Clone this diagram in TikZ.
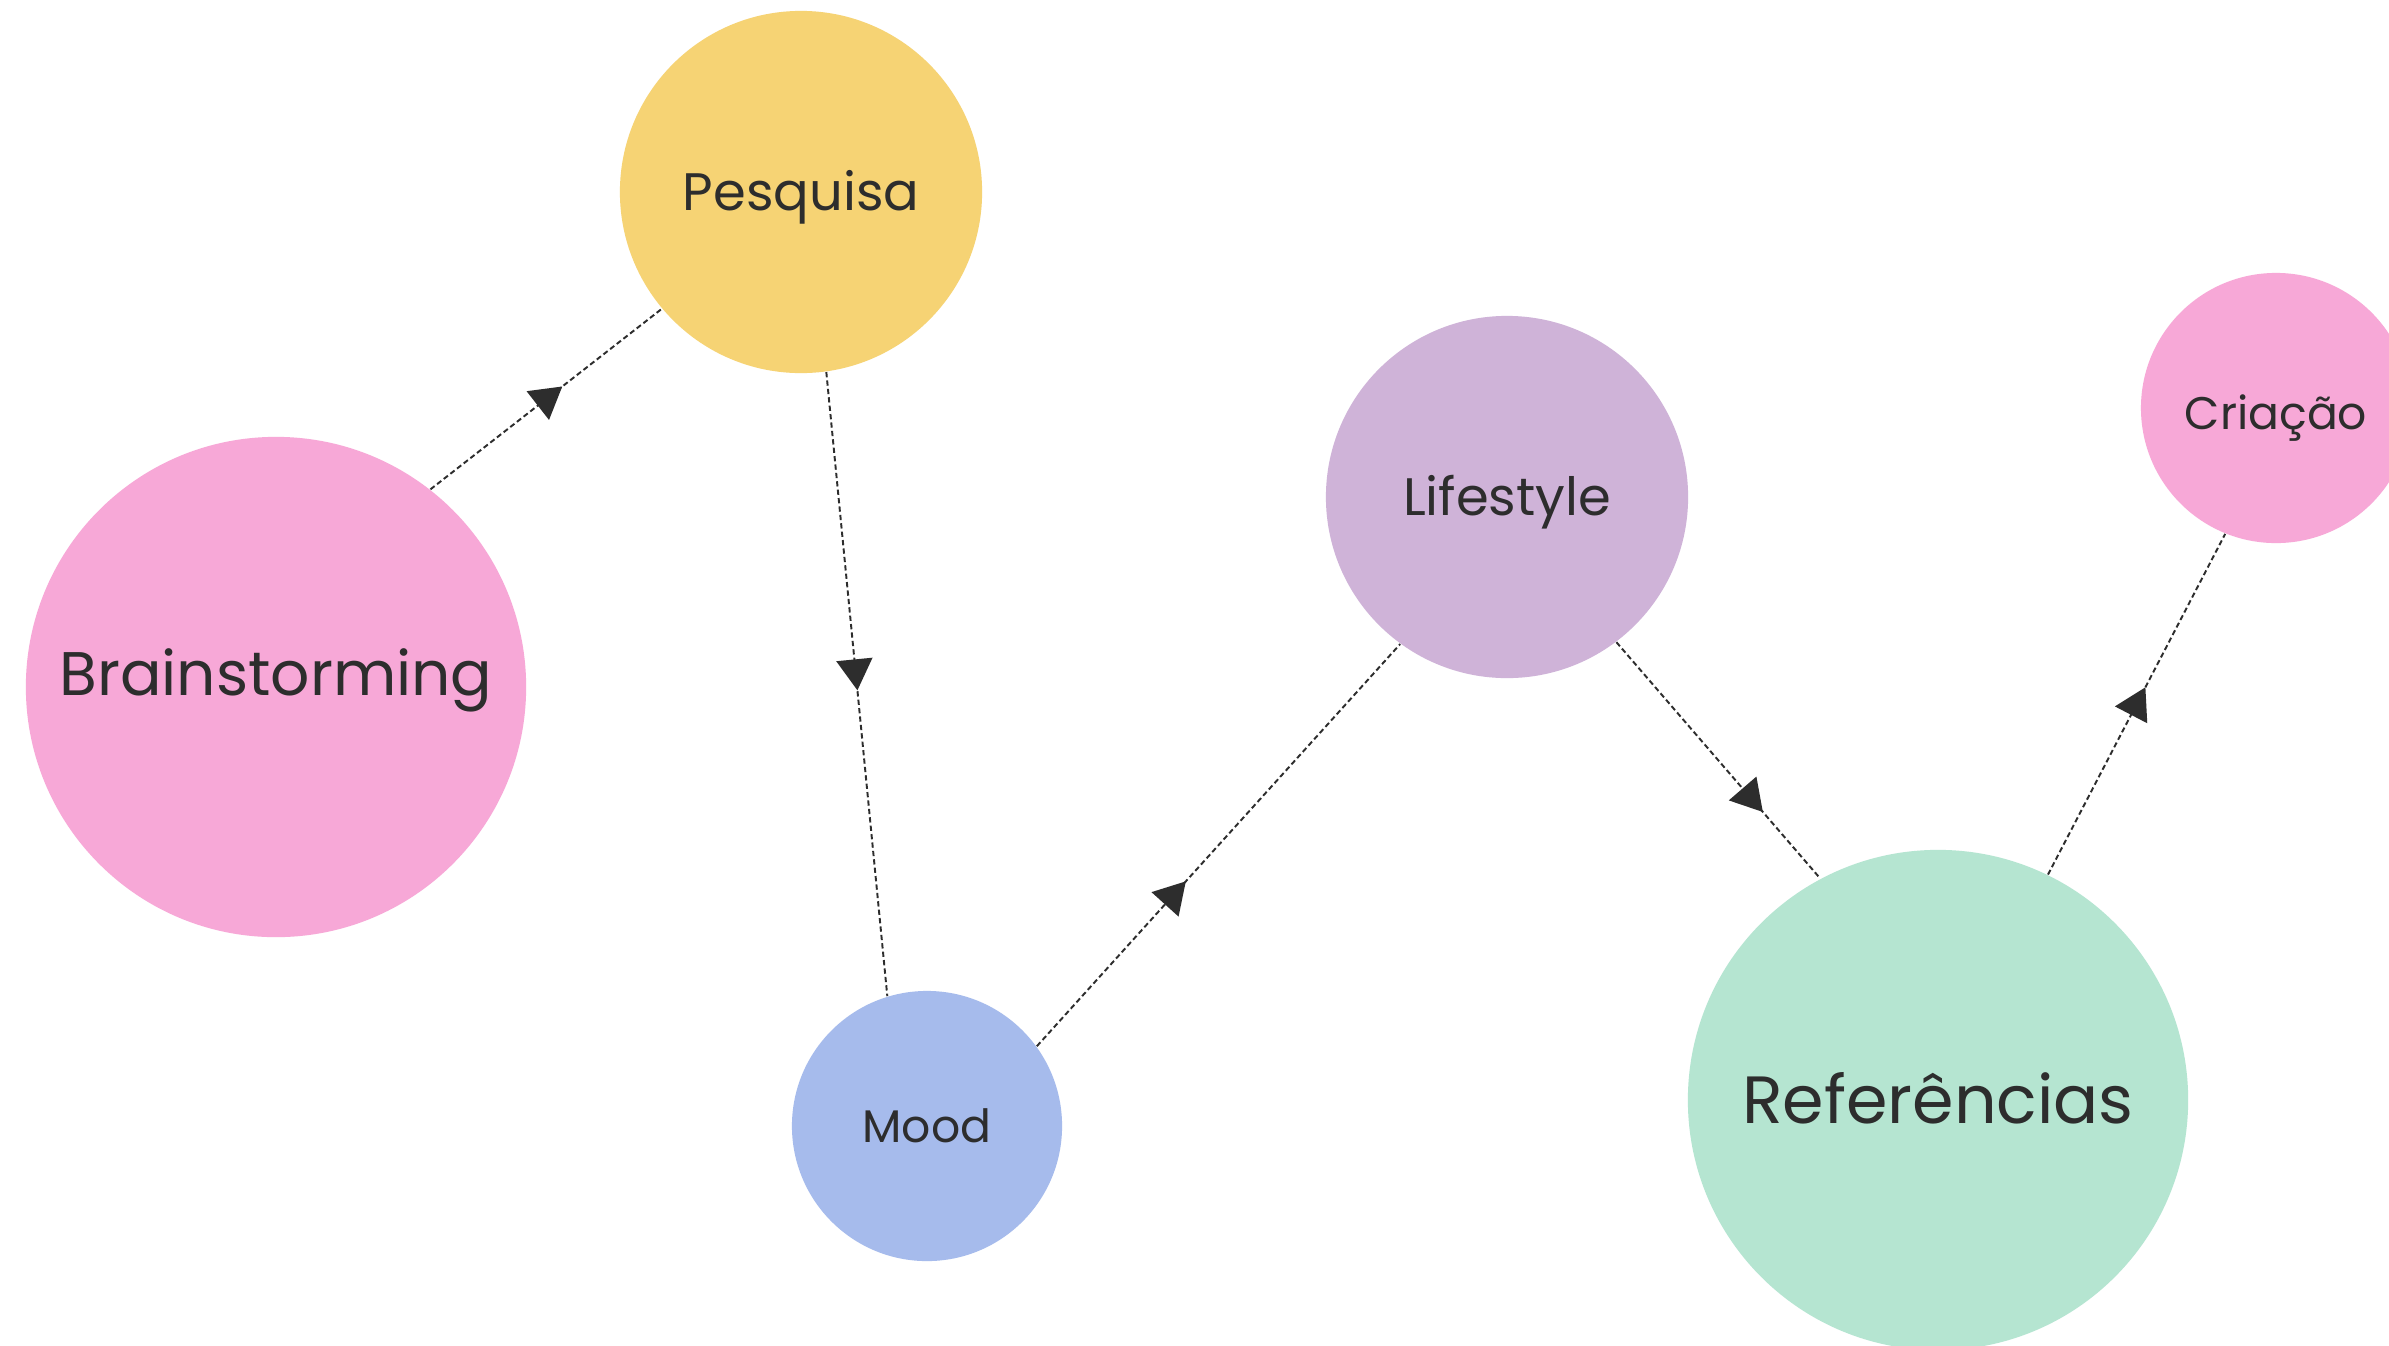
\documentclass[tikz,border=0pt]{standalone}
\usepackage{fontspec}
\setmainfont{Poppins}
\usetikzlibrary{positioning,arrows.meta,decorations.markings}
\definecolor{rosa}{HTML}{F7A8D7}
\definecolor{amarelo}{HTML}{F6D374}
\definecolor{lilas}{HTML}{CFB3D8}
\definecolor{azul}{HTML}{A6BBEC}
\definecolor{verde}{HTML}{B5E5D1}
\definecolor{tinta}{HTML}{2D2D2D}

\begin{document}
\begin{tikzpicture}[x=0.01cm,y=-0.01cm,
  bola/.style={circle,inner sep=0pt,text=tinta,text depth=0pt},
  grande/.style={bola,minimum size=5cm,font=\fontsize{19}{22}\selectfont,text height=13.3pt},
  media/.style={bola,minimum size=3.62cm,font=\fontsize{15}{18}\selectfont,text height=10.5pt},
  pequena/.style={bola,minimum size=2.7cm,font=\fontsize{13}{16}\selectfont,text height=9.1pt},
  liga/.style={draw=tinta,line width=0.55pt,dash pattern=on 1.5pt off 0.9pt,
    postaction={decorate},
    decoration={markings,mark=at position #1 with {\arrow{Triangle[length=0.31cm,width=0.36cm]}}}}]
\clip (0,0) rectangle (2389,1345);
\fill[white] (0,0) rectangle (2389,1345);
\node[grande,fill=rosa,font=\fontsize{17.5}{21}\selectfont,text height=12.25pt,text depth=7.4pt] (brain) at (276,687) {Brainstorming};
\node[media,fill=amarelo] (pesq) at (801,192) {Pesquisa};
\node[pequena,fill=azul] (mood) at (927,1126) {Mood};
\node[media,fill=lilas] (life) at (1507,497) {Lifestyle};
\node[grande,fill=verde] (ref) at (1938,1100) {Referências};
\node[pequena,fill=rosa,text height=12.5pt] (cria) at (2276,408) {Criação};
% ligacoes
\draw[liga=0.57] (brain.52.4) -- (pesq.220.2);
\draw[liga=0.51] (pesq.-82.1) -- (mood.107.2);
\draw[liga=0.41] (mood.36.4) -- (life.234.5);
\draw[liga=0.72] (life.-53.8) -- (ref.118.9);
\draw[liga=0.55] (ref.64.4) -- (cria.-112.6);
\end{tikzpicture}
\end{document}
